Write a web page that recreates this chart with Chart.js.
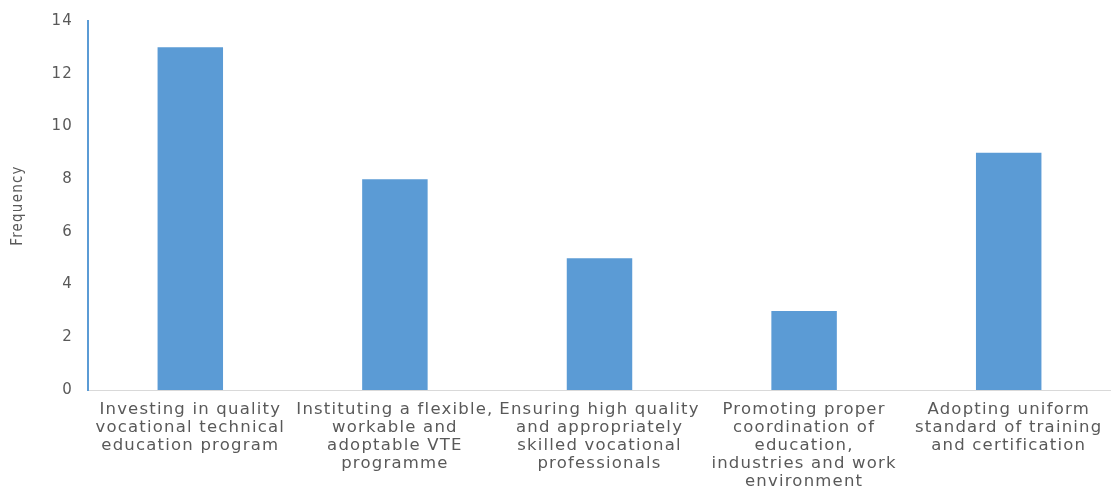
<!DOCTYPE html>
<html>
<head>
<meta charset="utf-8">
<script src="https://cdn.jsdelivr.net/npm/chart.js@4/dist/chart.umd.min.js"></script>
<style>
  html, body { margin: 0; padding: 0; background: #ffffff; }
  #wrap { width: 1111px; height: 486px; position: relative; }
</style>
</head>
<body>
<div id="wrap"><canvas id="c"></canvas></div>
<script>
const categories = [
  ["Investing in quality", "vocational technical", "education program"],
  ["Instituting a flexible,", "workable and", "adoptable VTE", "programme"],
  ["Ensuring high quality", "and appropriately", "skilled vocational", "professionals"],
  ["Promoting proper", "coordination of", "education,", "industries and work", "environment"],
  ["Adopting uniform", "standard of training", "and certification"]
];
const frequency = [13, 8, 5, 3, 9];
const yTicks = [0, 2, 4, 6, 8, 10, 12, 14];
const yTitle = "Frequency";

const spacing = {
  id: 'spacing',
  beforeInit(chart) { chart.ctx.letterSpacing = '1.2px'; },
  beforeLayout(chart) { chart.ctx.letterSpacing = '1.2px'; },
  beforeDraw(chart) { chart.ctx.letterSpacing = '1.2px'; }
};

new Chart(document.getElementById('c'), {
  type: 'bar',
  data: {
    labels: categories,
    datasets: [{
      label: yTitle,
      data: frequency,
      backgroundColor: '#5B9BD5',
      borderWidth: 0,
      barPercentage: 0.64,
      categoryPercentage: 0.5
    }]
  },
  plugins: [spacing],
  options: {
    responsive: true,
    maintainAspectRatio: false,
    animation: false,
    layout: { padding: { top: 21, right: 0, bottom: 0, left: 9 } },
    plugins: { legend: { display: false }, tooltip: { enabled: false } },
    scales: {
      x: {
        offset: true,
        grid: { display: false, drawTicks: false },
        border: { display: true, color: '#D9D9D9', width: 1 },
        ticks: {
          color: '#595959',
          font: { family: 'DejaVu Sans', size: 16.5, lineHeight: 1.09 },
          padding: 11,
          maxRotation: 0,
          autoSkip: false
        },
        afterFit: (s) => { s.height = 96; s.paddingLeft = 0; s.paddingRight = 0; }
      },
      y: {
        min: 0, max: 14,
        afterBuildTicks: (s) => { s.ticks = yTicks.map(v => ({ value: v })); },
        grid: { display: false, drawTicks: false },
        border: { display: true, color: '#5B9BD5', width: 2 },
        ticks: {
          color: '#595959',
          font: { family: 'DejaVu Sans', size: 15 },
          padding: 15
        },
        title: {
          display: true,
          text: yTitle,
          color: '#595959',
          font: { family: "'DejaVu Sans Condensed', 'Liberation Sans', sans-serif", size: 15 },
          padding: 0
        },
        afterFit: (s) => { s.width = 79; s.paddingTop = 0; s.paddingBottom = 0; }
      }
    }
  }
});
</script>
</body>
</html>
